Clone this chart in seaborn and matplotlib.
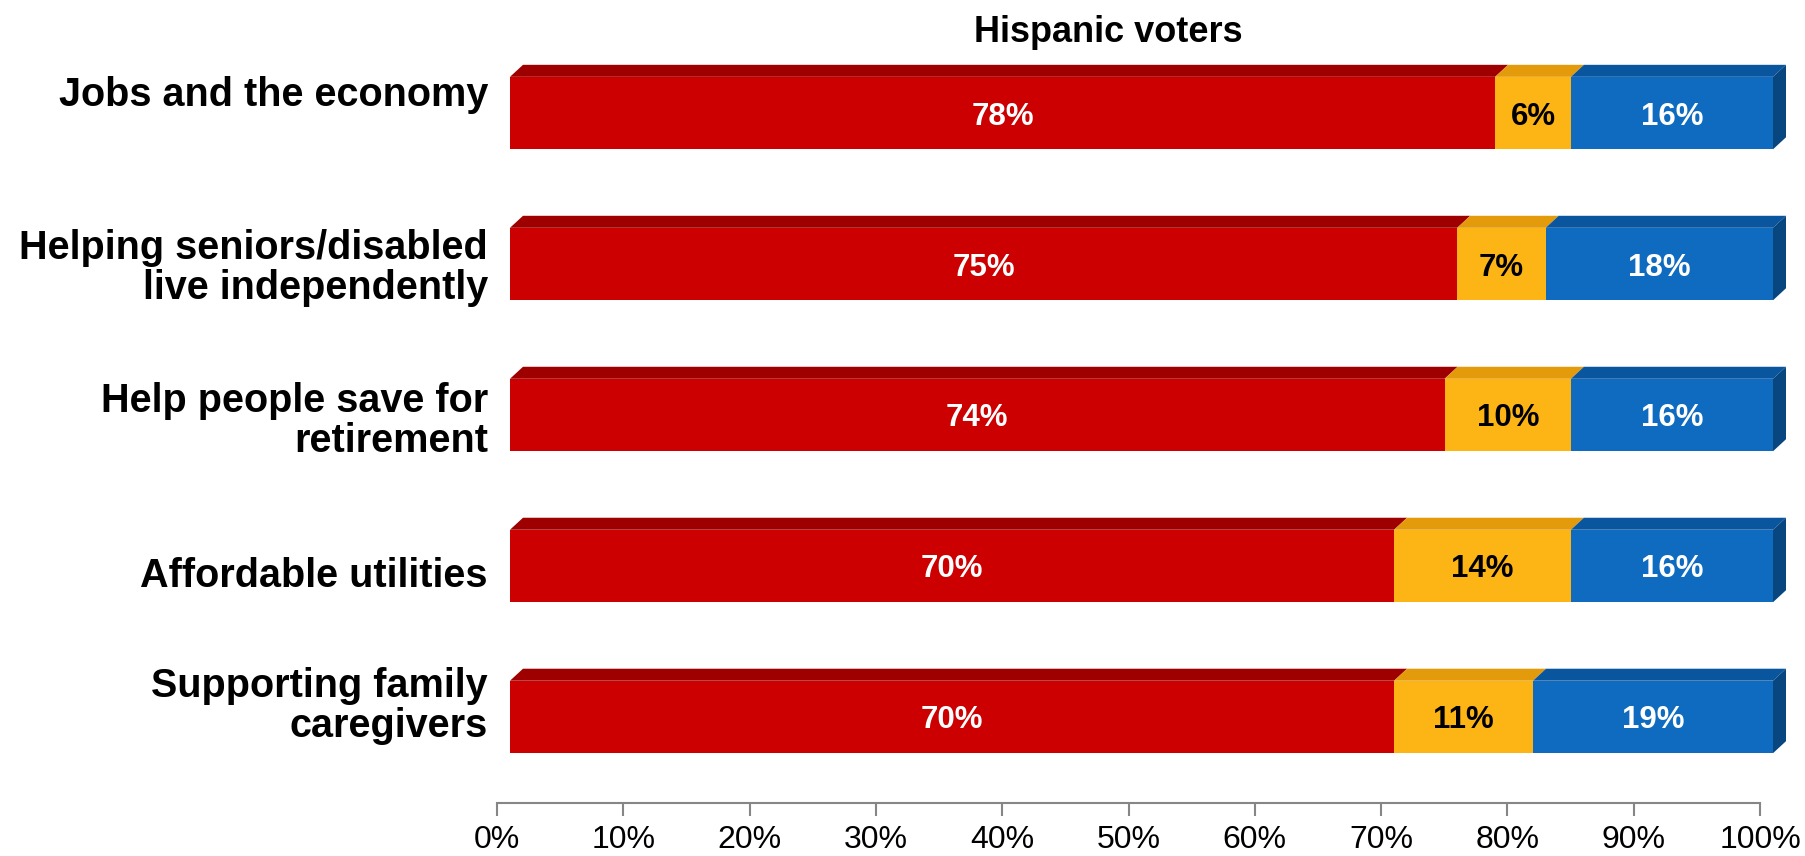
import numpy as np
import pandas as pd
import seaborn as sns
import matplotlib.pyplot as plt
from matplotlib.patches import Polygon
from matplotlib.transforms import ScaledTranslation, IdentityTransform

# -----------------------------
# data
# -----------------------------
categories = [
    "Jobs and the economy",
    "Helping seniors/disabled\nlive independently",
    "Help people save for\nretirement",
    "Affordable utilities",
    "Supporting family\ncaregivers",
]
red_vals = [78, 75, 74, 70, 70]
yellow_vals = [6, 7, 10, 14, 11]
blue_vals = [16, 18, 16, 16, 19]
tick_values = [0, 10, 20, 30, 40, 50, 60, 70, 80, 90, 100]
tick_labels = [f"{v}%" for v in tick_values]
title = "Hispanic voters"

# -----------------------------
# style / layout
# -----------------------------
W, H, DPI = 1805, 856, 100
RED, RED_TOP = "#CC0000", "#9E0000"
YELLOW, YELLOW_TOP = "#FDB515", "#E39A0B"
BLUE, BLUE_TOP, BLUE_SIDE = "#0F6BBF", "#0A569E", "#084680"
BAR_W = 0.48
DX = 13          # front face shift right (px)
DEPTH_X, DEPTH_Y = 13, 12   # 3d depth (px)
label_nudge = [-7, 35, 37, 21, 20]   # last-line baseline vs bar centre (px, down +)

sns.set_style("white")
plt.rcParams["font.family"] = ["Liberation Sans", "DejaVu Sans"]

df = pd.DataFrame({"category": categories, "red": red_vals,
                   "yellow": yellow_vals, "blue": blue_vals})
df["red_end"] = df["red"]
df["yellow_end"] = df["red"] + df["yellow"]
df["blue_end"] = df["yellow_end"] + df["blue"]

fig = plt.figure(figsize=(W / DPI, H / DPI), dpi=DPI)
ax = fig.add_axes([497 / W, 53 / H, 1263 / W, 776 / H])

for col, color in [("blue_end", BLUE), ("yellow_end", YELLOW), ("red_end", RED)]:
    sns.barplot(data=df, x=col, y="category", orient="h", color=color,
                saturation=1, width=BAR_W, errorbar=None, edgecolor="none",
                linewidth=0, ax=ax)

ax.set_xlim(0, 100)
ax.set_ylim(len(categories) - 1 + 0.57, -0.57)
ax.set_xlabel("")
ax.set_ylabel("")
ax.set_xticks(tick_values)
ax.set_xticklabels(tick_labels)
ax.set_yticks([])
ax.tick_params(axis="x", length=9, width=1.5, color="#868686", labelsize=23,
               pad=7, labelcolor="black", bottom=True)
for s in ["top", "right", "left"]:
    ax.spines[s].set_visible(False)
ax.spines["bottom"].set_color("#868686")
ax.spines["bottom"].set_linewidth(1.5)

shift = ax.transData + ScaledTranslation(DX / DPI, 0, fig.dpi_scale_trans)
for p in ax.patches:
    p.set_transform(shift)
    p.set_clip_on(False)

# 3d top and side faces, built from the values
for i, row in df.iterrows():
    segs = [(0, row["red_end"], RED_TOP),
            (row["red_end"], row["yellow_end"], YELLOW_TOP),
            (row["yellow_end"], row["blue_end"], BLUE_TOP)]
    for x0, x1, c in segs:
        (px0, ya), (px1, yb) = ax.transData.transform([(x0, i - BAR_W / 2), (x1, i + BAR_W / 2)])
        ytop, ybot = max(ya, yb), min(ya, yb)
        px0 += DX
        px1 += DX
        top = Polygon([(px0, ytop), (px1, ytop), (px1 + DEPTH_X, ytop + DEPTH_Y),
                       (px0 + DEPTH_X, ytop + DEPTH_Y)], closed=True,
                      facecolor=c, edgecolor="none", transform=IdentityTransform())
        fig.add_artist(top)
    side = Polygon([(px1, ybot), (px1, ytop), (px1 + DEPTH_X, ytop + DEPTH_Y),
                    (px1 + DEPTH_X, ybot + DEPTH_Y)], closed=True,
                   facecolor=BLUE_SIDE, edgecolor="none", transform=IdentityTransform())
    fig.add_artist(side)

    # value labels
    for x0, x1, v, tc in [(0, row["red_end"], row["red"], "white"),
                          (row["red_end"], row["yellow_end"], row["yellow"], "black"),
                          (row["yellow_end"], row["blue_end"], row["blue"], "white")]:
        ax.text((x0 + x1) / 2, i, f"{v}%", transform=shift, ha="center",
                va="center_baseline", fontsize=22.5, fontweight="bold", color=tc,
                clip_on=False)

    # category labels
    trans = ax.get_yaxis_transform() + ScaledTranslation(0, -label_nudge[i] / DPI, fig.dpi_scale_trans)
    ax.text(-9 / 1263, i, row["category"], transform=trans, ha="right",
            va="baseline", fontsize=28.5, fontweight="bold", color="black",
            linespacing=1.08, multialignment="right")

fig.text(1108 / W, 1 - 42 / H, title, ha="center", va="baseline",
         fontsize=26, fontweight="bold", color="black")

fig.savefig("out.png", dpi=DPI, facecolor="white")
